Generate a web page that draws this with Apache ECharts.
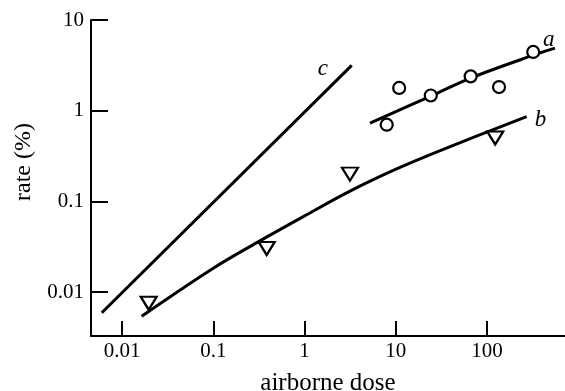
<!DOCTYPE html>
<html>
<head>
<meta charset="utf-8">
<script src="https://cdn.jsdelivr.net/npm/echarts@6/dist/echarts.min.js"></script>
<style>
  html, body { margin: 0; padding: 0; background: #fff; }
  #chart { width: 565px; height: 391px; }
</style>
</head>
<body>
<div id="chart"></div>
<script>
// tick values on both log axes
const xTicks = [0.01, 0.1, 1, 10, 100]
const yTicks = [0.01, 0.1, 1, 10]

// curve a and its circles
const aLineDose = [5.22, 24.2, 66.2, 321, 556]
const aLineRate = [0.73, 1.45, 2.29, 4.09, 4.89]
const aPointDose = [7.96, 10.9, 24.2, 66.2, 135.5, 321]
const aPointRate = [0.70, 1.78, 1.47, 2.39, 1.82, 4.44]

// curve b and its triangles
const bLineDose = [0.0164, 0.1, 0.30, 0.97, 3.15, 10.2, 33.2, 272]
const bLineRate = [0.0054, 0.0183, 0.0350, 0.0678, 0.1295, 0.2275, 0.374, 0.859]
const bPointDose = [0.0196, 0.385, 3.15, 123]
const bPointRate = [0.0075, 0.0302, 0.1995, 0.50]

// straight line c
const cLineDose = [0.006, 3.29]
const cLineRate = [0.0059, 3.16]

const pairs = (xs, ys) => xs.map((x, i) => [x, ys[i]])

const FONT = 'Liberation Serif'
const INK = '#000'

function lineSeries(name, xs, ys, smooth, label, offset) {
  return {
    name,
    type: 'line',
    data: pairs(xs, ys),
    smooth,
    showSymbol: false,
    symbol: 'none',
    silent: true,
    lineStyle: { color: INK, width: 3 },
    endLabel: {
      show: true,
      formatter: label,
      fontFamily: FONT,
      fontStyle: 'italic',
      fontSize: 23,
      color: INK,
      offset
    }
  }
}

const chart = echarts.init(document.getElementById('chart'))

const option = {
  animation: false,
  grid: {
    left: 91,
    right: 0,
    top: 20,
    bottom: 55,
    containLabel: false,
    outerBoundsMode: 'none'
  },
  xAxis: {
    type: 'log',
    min: 0.00457,
    max: 716,
    name: 'airborne dose',
    nameLocation: 'middle',
    nameGap: 35,
    nameTextStyle: { fontFamily: FONT, fontSize: 25, color: INK },
    axisLine: { lineStyle: { color: INK, width: 2 } },
    axisTick: {
      inside: true,
      length: 15,
      lineStyle: { color: INK, width: 2 },
      customValues: xTicks
    },
    axisLabel: {
      margin: 5,
      fontFamily: FONT,
      fontSize: 21,
      color: INK,
      customValues: xTicks,
      formatter: v => String(v)
    },
    splitLine: { show: false }
  },
  yAxis: {
    type: 'log',
    min: 0.00327,
    max: 10,
    name: 'rate (%)',
    nameLocation: 'middle',
    nameGap: 55,
    nameTextStyle: { fontFamily: FONT, fontSize: 24, color: INK, padding: [0, 0, 0, 32] },
    axisLine: { lineStyle: { color: INK, width: 2 } },
    axisTick: {
      inside: true,
      length: 17,
      lineStyle: { color: INK, width: 2 },
      customValues: yTicks
    },
    axisLabel: {
      margin: 7,
      fontFamily: FONT,
      fontSize: 21,
      color: INK,
      customValues: yTicks,
      formatter: v => String(v)
    },
    splitLine: { show: false }
  },
  series: [
    lineSeries('c', cLineDose, cLineRate, false, 'c', [-42, 4]),
    lineSeries('b', bLineDose, bLineRate, 0.35, 'b', [0, 3]),
    lineSeries('a', aLineDose, aLineRate, 0.35, 'a', [-20, -8]),
    {
      name: 'a points',
      type: 'scatter',
      data: pairs(aPointDose, aPointRate),
      symbol: 'circle',
      symbolSize: 12,
      silent: true,
      itemStyle: { color: '#fff', opacity: 1, borderColor: INK, borderWidth: 2.2 },
      z: 3
    },
    {
      name: 'b points',
      type: 'scatter',
      data: pairs(bPointDose, bPointRate),
      symbol: 'path://M0,0 L16,0 L8,13 Z',
      symbolSize: [16, 13],
      silent: true,
      itemStyle: { color: '#fff', opacity: 1, borderColor: INK, borderWidth: 2.2 },
      z: 3
    }
  ]
}

chart.setOption(option)
</script>
</body>
</html>
